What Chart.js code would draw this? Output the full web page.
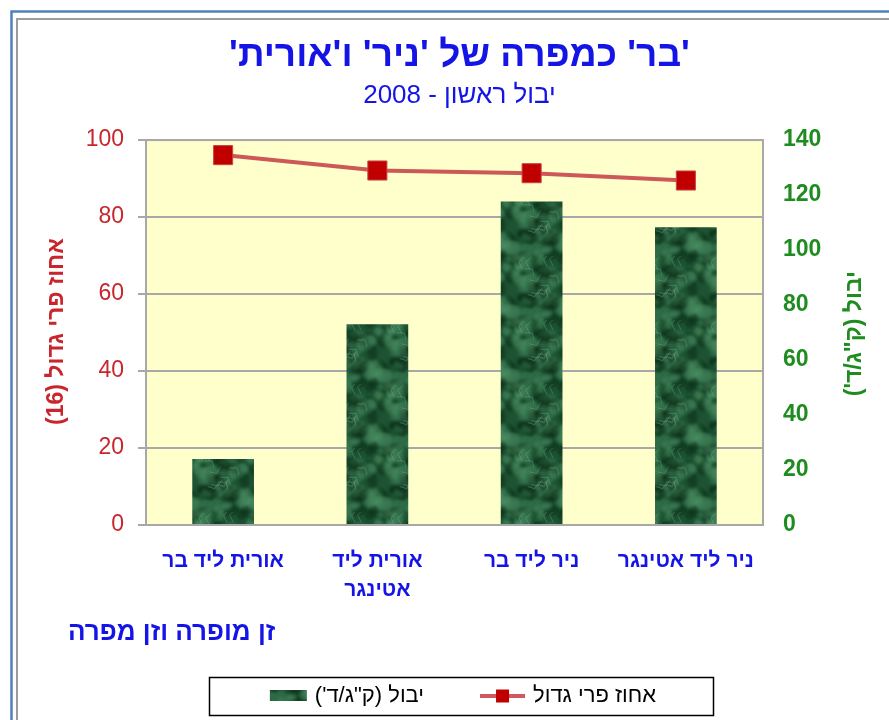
<!DOCTYPE html>
<html lang="he">
<head>
<meta charset="utf-8">
<title>'בר' כמפרה של 'ניר' ו'אורית'</title>
<script src="https://cdn.jsdelivr.net/npm/chart.js@4.4.1/dist/chart.umd.min.js"></script>
<style>
  html, body { margin: 0; padding: 0; background: #fff; }
  canvas { display: block; }
</style>
</head>
<body>
<canvas id="chart" width="889" height="720" dir="rtl"></canvas>
<script>
// data
const categories = [
  'אורית ליד בר',
  ['אורית ליד', 'אטינגר'],
  'ניר ליד בר',
  'ניר ליד אטינגר'
];
const yieldValues = [24, 73, 117.7, 108.3];        // right axis, kg/dunam
const largeFruitPct = [96.1, 92.1, 91.4, 89.5];   // left axis, %

const yieldLabel = 'יבול (ק"ג/ד\')';
const largeFruitLabel = 'אחוז פרי גדול';
const leftAxisTitle = 'אחוז פרי גדול (16)';
const rightAxisTitle = 'יבול (ק"ג/ד\')';
const xAxisTitle = 'זן מופרה וזן מפרה';
const chartTitle = '\'בר\' כמפרה של \'ניר\' ו\'אורית\'';
const chartSubtitle = 'יבול ראשון - 2008';

const FONT = 'Arial, "Liberation Sans", sans-serif';
const BLUE = '#1414e6';
const RED = '#c8252c';
const GREEN = '#1f8c1f';

// marbled dark green fill for the bars (style only)
function frac(v) { return v - Math.floor(v); }
function makeMarble() {
  const S = 64;
  const c = document.createElement('canvas');
  c.width = S; c.height = S;
  const g = c.getContext('2d');
  g.fillStyle = '#1d5332';
  g.fillRect(0, 0, S, S);
  g.filter = 'blur(1.5px)';
  for (let k = 0; k < 70; k++) {
    const x = frac(Math.sin(k * 12.9898) * 43758.5453) * S;
    const y = frac(Math.sin(k * 78.233) * 43758.5453) * S;
    const r = 2 + (k % 4) * 1.6;
    g.fillStyle = k % 2 ? 'rgba(80,150,105,0.35)' : 'rgba(6,38,18,0.45)';
    // draw wrapped copies so the tile repeats without seams
    for (let dx = -S; dx <= S; dx += S) {
      for (let dy = -S; dy <= S; dy += S) {
        g.beginPath();
        g.ellipse(x + dx, y + dy, r * 1.6, r, k, 0, Math.PI * 2);
        g.fill();
      }
    }
  }
  g.filter = 'none';
  g.strokeStyle = 'rgba(140,205,165,0.28)';
  g.lineWidth = 1;
  for (let k = 0; k < 12; k++) {
    const x = 8 + frac(Math.sin(k * 3.17 + 1) * 9631.77) * (S - 30);
    const y = 8 + frac(Math.sin(k * 7.31 + 2) * 5521.13) * (S - 30);
    g.beginPath();
    g.moveTo(x, y);
    g.lineTo(x + 8 * Math.cos(k * 2.1), y + 8 * Math.sin(k * 2.1));
    g.lineTo(x + 12 * Math.cos(k * 2.1 + 0.6), y + 12 * Math.sin(k * 2.1 + 0.6));
    g.stroke();
  }
  return g.createPattern(c, 'repeat');
}
const marble = makeMarble();

const framePlugin = {
  id: 'frame',
  beforeDraw(chart) {
    const { ctx, chartArea: a, width, height } = chart;
    ctx.save();
    ctx.fillStyle = '#fff';
    ctx.fillRect(0, 0, width, height);
    ctx.strokeStyle = '#4f81bd';
    ctx.lineWidth = 2.5;
    ctx.beginPath();
    ctx.moveTo(11.5, height); ctx.lineTo(11.5, 11.5); ctx.lineTo(width, 11.5);
    ctx.stroke();
    ctx.strokeStyle = '#9c9c9c';
    ctx.lineWidth = 2;
    ctx.beginPath();
    ctx.moveTo(17, height); ctx.lineTo(17, 19); ctx.lineTo(width, 19);
    ctx.stroke();
    ctx.fillStyle = '#ffffcc';
    ctx.fillRect(a.left, a.top, a.width, a.height);
    ctx.restore();
  },
  afterDraw(chart) {
    const { ctx, chartArea: a } = chart;
    ctx.save();
    // plot border
    ctx.strokeStyle = '#a8a8a8';
    ctx.lineWidth = 2;
    ctx.strokeRect(a.left, a.top, a.width, a.height);

    // axis titles, both rotated counter-clockwise like the original
    const midY = (a.top + a.bottom) / 2;
    ctx.textAlign = 'center';
    ctx.textBaseline = 'middle';
    ctx.font = 'bold 23px ' + FONT;
    ctx.fillStyle = RED;
    ctx.save(); ctx.translate(57, midY - 1); ctx.rotate(-Math.PI / 2); ctx.fillText(leftAxisTitle, 0, 0); ctx.restore();
    ctx.fillStyle = GREEN;
    ctx.save(); ctx.translate(855, midY + 1); ctx.rotate(-Math.PI / 2); ctx.fillText(rightAxisTitle, 0, 0); ctx.restore();

    ctx.font = 'bold 26px ' + FONT;
    ctx.fillStyle = BLUE;
    ctx.textAlign = 'left';
    ctx.fillText(xAxisTitle, 68, 633);

    // legend
    const ds = chart.data.datasets;
    ctx.font = '22px ' + FONT;
    const items = [
      { text: ds[0].label, sym: 37, kind: 'bar' },
      { text: ds[1].label, sym: 45, kind: 'line' }
    ];
    const gapSym = 8, gapItem = 56;
    items.forEach(it => { it.w = it.sym + gapSym + ctx.measureText(it.text).width; });
    const total = items[0].w + gapItem + items[1].w;
    const cx = 463;
    let x = cx - total / 2;
    const ly = 696;
    ctx.strokeStyle = '#000';
    ctx.lineWidth = 1.5;
    ctx.strokeRect(Math.round(x - 61) + 0.5, 677.5, Math.round(total + 118), 38);
    items.forEach(it => {
      if (it.kind === 'bar') {
        ctx.fillStyle = marble;
        ctx.fillRect(x, ly - 6, it.sym, 11);
      } else {
        ctx.strokeStyle = 'rgba(200,70,75,0.9)';
        ctx.lineWidth = 4;
        ctx.beginPath(); ctx.moveTo(x, ly); ctx.lineTo(x + it.sym, ly); ctx.stroke();
        ctx.fillStyle = '#c00000';
        ctx.fillRect(x + it.sym / 2 - 6.5, ly - 6.5, 13, 13);
      }
      ctx.fillStyle = '#000';
      ctx.textAlign = 'left';
      ctx.fillText(it.text, x + it.sym + gapSym, ly);
      x += it.w + gapItem;
    });
    ctx.restore();
  }
};

new Chart(document.getElementById('chart').getContext('2d'), {
  data: {
    labels: categories,
    datasets: [
      {
        type: 'bar',
        label: yieldLabel,
        data: yieldValues,
        yAxisID: 'y1',
        backgroundColor: marble,
        borderWidth: 0,
        barPercentage: 0.4,
        categoryPercentage: 1,
        order: 1
      },
      {
        type: 'line',
        label: largeFruitLabel,
        data: largeFruitPct,
        yAxisID: 'y',
        borderColor: 'rgba(200,70,75,0.9)',
        borderWidth: 4,
        pointStyle: 'rect',
        pointRadius: 13.5,
        pointBackgroundColor: '#c00000',
        pointBorderColor: '#c84545',
        pointBorderWidth: 1,
        tension: 0,
        order: 0
      }
    ]
  },
  options: {
    responsive: false,
    animation: false,
    layout: { padding: { left: 30, right: 0, top: 0, bottom: 0 } },
    plugins: {
      legend: { display: false },
      tooltip: { enabled: false },
      title: {
        display: true,
        text: chartTitle,
        color: BLUE,
        font: { family: FONT, size: 37, weight: 'bold' },
        padding: { top: 34, bottom: 1 }
      },
      subtitle: {
        display: true,
        text: chartSubtitle,
        color: BLUE,
        font: { family: FONT, size: 26 },
        padding: { top: 1, bottom: 28.5 }
      }
    },
    scales: {
      x: {
        grid: { display: false, drawTicks: false },
        border: { display: false },
        ticks: {
          color: BLUE,
          font: { family: FONT, size: 21, weight: 'bold', lineHeight: 1.38 },
          padding: 22,
          maxRotation: 0,
          autoSkip: false
        },
        afterFit(scale) { scale.height = 195; }
      },
      y: {
        position: 'left',
        min: 0,
        max: 100,
        ticks: { stepSize: 20, color: RED, font: { family: FONT, size: 23 }, padding: 14 },
        grid: { color: '#a8a8a8', lineWidth: 2, tickLength: 8 },
        border: { display: true, color: '#a8a8a8', width: 2 },
        afterFit(scale) { scale.width = 116; }
      },
      y1: {
        position: 'right',
        min: 0,
        max: 140,
        ticks: { stepSize: 20, color: GREEN, font: { family: FONT, size: 23, weight: 'bold' }, padding: 20 },
        grid: { display: false, drawTicks: false },
        border: { display: false },
        afterFit(scale) { scale.width = 126; }
      }
    }
  },
  plugins: [framePlugin]
});
</script>
</body>
</html>
